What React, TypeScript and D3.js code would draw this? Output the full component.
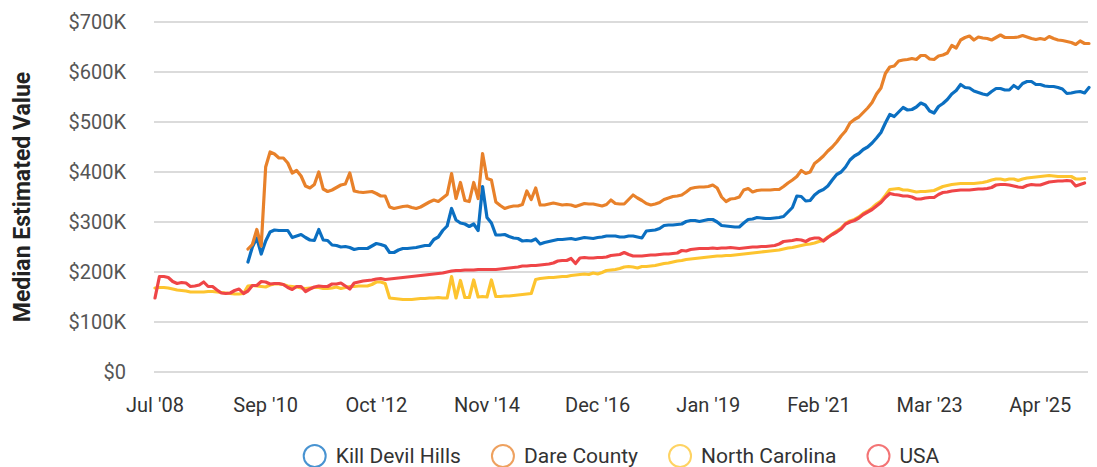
import { useRef, useEffect } from "react";
import * as d3 from "d3";

// x axis: one point per month, labels every 25 points
const tickLabels = ["Jul '08", "Sep '10", "Oct '12", "Nov '14", "Dec '16", "Jan '19", "Feb '21", "Mar '23", "Apr '25"];
const yTicks = [0, 100, 200, 300, 400, 500, 600, 700]; // $K

const seriesNames = ["Kill Devil Hills", "Dare County", "North Carolina", "USA"];
const seriesColors = ["#0b6fc1", "#e8812a", "#fdc42f", "#ef4547"];
const seriesStart = [21, 21, 0, 0]; // first month index of each series

// values in $K
const killDevilHills = [
  220, 250, 268, 236, 262, 280, 284, 283, 283,
  283, 269, 272, 275, 269, 264, 263, 285, 264, 263,
  254, 253, 250, 251, 249, 245, 247, 247, 247, 252,
  257, 255, 252, 239, 239, 244, 247, 247, 248, 249,
  251, 253, 253, 265, 270, 283, 292, 327, 304, 298,
  296, 291, 296, 283, 371, 309, 298, 274, 274, 275,
  271, 268, 267, 262, 263, 262, 266, 256, 259, 261,
  263, 265, 265, 266, 267, 265, 267, 269, 268, 267,
  269, 270, 272, 272, 272, 270, 270, 272, 272, 270,
  268, 282, 283, 284, 287, 293, 294, 294, 295, 296,
  301, 303, 303, 301, 303, 305, 305, 300, 293, 292,
  291, 290, 290, 298, 305, 306, 309, 308, 307, 307,
  308, 309, 311, 320, 329, 352, 351, 342, 343, 354,
  361, 365, 372, 384, 395, 400, 410, 424, 432, 437,
  445, 450, 458, 468, 479, 498, 515, 511, 520, 529,
  524, 525, 530, 538, 534, 522, 518, 531, 537, 545,
  556, 563, 575, 569, 568, 562, 559, 556, 554, 561,
  567, 567, 564, 564, 573, 567, 577, 581, 581, 575,
  575, 572, 571, 571, 569, 566, 557, 558, 560, 561, 558, 569,
];

const dareCounty = [
  246, 255, 285, 252, 410, 440, 436, 428, 428,
  418, 398, 403, 392, 372, 368, 375, 400, 366, 361,
  364, 369, 374, 376, 398, 362, 360, 359, 360, 361,
  357, 352, 352, 330, 327, 329, 331, 332, 329, 327,
  330, 335, 340, 344, 341, 348, 355, 397, 347, 379,
  343, 341, 379, 347, 437, 387, 384, 340, 333, 327,
  330, 332, 332, 335, 362, 345, 368, 334, 334, 336,
  338, 336, 334, 335, 334, 331, 334, 337, 336, 336,
  334, 332, 335, 344, 337, 336, 336, 345, 354, 348,
  343, 337, 334, 336, 339, 345, 348, 351, 352, 354,
  360, 367, 369, 370, 370, 371, 374, 368, 350, 341,
  346, 347, 350, 364, 367, 360, 363, 364, 364, 364,
  365, 365, 371, 378, 384, 391, 403, 397, 400, 417,
  424, 432, 442, 450, 460, 472, 482, 498, 505, 510,
  519, 528, 539, 556, 568, 597, 610, 612, 622, 624,
  625, 627, 625, 633, 633, 626, 625, 632, 634, 638,
  653, 648, 664, 669, 672, 664, 670, 668, 667, 664,
  669, 674, 669, 669, 669, 670, 673, 670, 667, 665,
  667, 665, 671, 667, 664, 663, 661, 659, 655, 662, 657, 657,
];

const northCarolina = [
  168, 169, 169, 168, 166, 164, 163, 162, 160, 160,
  160, 160, 161, 161, 160, 159, 158, 157, 156, 156,
  157, 172, 173, 172, 171, 170, 174, 176, 176, 175,
  172, 171, 170, 168, 167, 168, 169, 169, 167, 167,
  168, 170, 167, 169, 171, 171, 172, 172, 172, 175,
  180, 180, 177, 148, 147, 146, 145, 145, 145, 146,
  147, 147, 148, 148, 149, 148, 148, 191, 148, 183,
  149, 149, 184, 150, 151, 150, 184, 151, 151, 152,
  152, 153, 154, 155, 156, 157, 185, 187, 188, 189,
  189, 190, 191, 191, 193, 194, 195, 196, 195, 198,
  196, 199, 203, 204, 205, 207, 210, 211, 210, 208,
  211, 211, 212, 213, 215, 217, 218, 220, 222, 223,
  225, 226, 227, 228, 229, 230, 231, 232, 232, 233,
  233, 234, 235, 236, 237, 238, 239, 240, 241, 242,
  243, 244, 246, 248, 249, 251, 253, 255, 256, 258,
  261, 263, 270, 276, 282, 288, 297, 302, 305, 310,
  317, 322, 328, 336, 342, 353, 365, 366, 367, 364,
  364, 362, 360, 361, 361, 362, 363, 367, 371, 373,
  375, 376, 377, 377, 377, 377, 378, 379, 381, 384,
  386, 386, 384, 386, 386, 383, 386, 388, 389, 390,
  391, 392, 393, 392, 391, 391, 391, 391, 386, 386, 387,
];

const usa = [
  148, 191, 191, 189, 181, 177, 179, 178, 171, 172,
  174, 180, 171, 171, 164, 158, 157, 158, 163, 166,
  157, 162, 173, 173, 181, 180, 176, 177, 177, 175,
  169, 165, 171, 171, 161, 166, 170, 172, 171, 171,
  176, 176, 178, 172, 166, 178, 180, 182, 183, 184,
  186, 187, 185, 186, 187, 188, 189, 190, 191, 192,
  193, 194, 195, 196, 197, 198, 200, 202, 203, 203,
  204, 204, 204, 205, 205, 205, 205, 205, 206, 207,
  208, 209, 210, 212, 212, 213, 213, 214, 215, 216,
  218, 222, 223, 223, 227, 217, 228, 229, 228, 228,
  229, 229, 230, 233, 234, 235, 239, 235, 232, 232,
  232, 233, 234, 234, 235, 236, 236, 237, 238, 243,
  242, 245, 246, 247, 247, 247, 248, 247, 248, 248,
  249, 248, 247, 248, 249, 250, 250, 251, 251, 252,
  253, 256, 261, 262, 263, 265, 264, 261, 266, 268,
  268, 262, 269, 275, 280, 286, 296, 300, 303, 308,
  315, 320, 325, 332, 339, 349, 357, 355, 354, 352,
  352, 350, 346, 346, 348, 349, 349, 355, 359, 360,
  362, 363, 364, 364, 364, 365, 366, 366, 367, 369,
  374, 375, 375, 374, 372, 370, 369, 373, 375, 374,
  374, 377, 380, 381, 382, 382, 383, 382, 372, 375, 378,
];

const seriesValues = [killDevilHills, dareCounty, northCarolina, usa];

const App = () => {
  const svgRef = useRef(null);

  useEffect(() => {
    const w = 1097;
    const h = 467;
    const svg = d3.select(svgRef.current);
    svg.selectAll("*").remove();

    const font = "Roboto, 'Open Sans', sans-serif";

    const xScale = d3.scaleLinear().domain([0, 211]).range([155, 1089]);
    const yScale = d3.scaleLinear().domain([0, 700]).range([372, 22]);

    // grid + y labels
    const grid = svg.append("g");
    grid.selectAll("line")
      .data(yTicks)
      .join("line")
      .attr("x1", 154)
      .attr("x2", 1088)
      .attr("y1", (d) => yScale(d))
      .attr("y2", (d) => yScale(d))
      .attr("stroke", "#cfcfcf")
      .attr("stroke-width", 1.5);

    grid.selectAll("text")
      .data(yTicks)
      .join("text")
      .attr("x", 126)
      .attr("y", (d) => yScale(d))
      .attr("dy", "0.35em")
      .attr("text-anchor", "end")
      .attr("font-family", font)
      .attr("font-size", 20)
      .attr("fill", "#555")
      .text((d) => (d === 0 ? "$0" : `$${d}K`));

    // x labels
    svg.append("g")
      .selectAll("text")
      .data(tickLabels)
      .join("text")
      .attr("x", (d, i) => xScale(i * 25))
      .attr("y", 412)
      .attr("text-anchor", "middle")
      .attr("font-family", font)
      .attr("font-size", 20)
      .attr("fill", "#333")
      .text((d) => d);

    // axis title
    svg.append("text")
      .attr("transform", "translate(30, 197) rotate(-90)")
      .attr("text-anchor", "middle")
      .attr("font-family", font)
      .attr("font-size", 23)
      .attr("font-weight", "bold")
      .attr("fill", "#222")
      .text("Median Estimated Value");

    // lines
    seriesValues.forEach((vals, s) => {
      const line = d3.line()
        .x((d, i) => xScale(seriesStart[s] + i))
        .y((d) => yScale(d));
      svg.append("path")
        .datum(vals)
        .attr("fill", "none")
        .attr("stroke", seriesColors[s])
        .attr("stroke-width", 3.2)
        .attr("stroke-linejoin", "round")
        .attr("stroke-linecap", "round")
        .attr("d", line);
    });

    // legend, centred under the plot
    const legend = svg.append("g");
    const items = seriesNames.map((name, i) => {
      const g = legend.append("g");
      g.append("circle")
        .attr("cx", 11)
        .attr("cy", 0)
        .attr("r", 11)
        .attr("fill", "#fff")
        .attr("stroke", seriesColors[i])
        .attr("stroke-opacity", 0.75)
        .attr("stroke-width", 2);
      const t = g.append("text")
        .attr("x", 32)
        .attr("y", 0)
        .attr("dy", "0.35em")
        .attr("font-family", font)
        .attr("font-size", 21)
        .attr("fill", "#333")
        .text(name);
      const tw = t.node().getComputedTextLength();
      return { g, width: 32 + tw };
    });
    const gap = 31;
    const total = d3.sum(items, (d) => d.width) + gap * (items.length - 1);
    let cx = (155 + 1088) / 2 - total / 2;
    items.forEach((it) => {
      it.g.attr("transform", `translate(${cx}, 456)`);
      cx += it.width + gap;
    });

    svg.attr("width", w).attr("height", h);
  }, []);

  return (
    <svg
      ref={svgRef}
      width={1097}
      height={467}
      style={{ position: "absolute", left: 0, top: 0, background: "#fff" }}
    ></svg>
  );
};

export default App;
